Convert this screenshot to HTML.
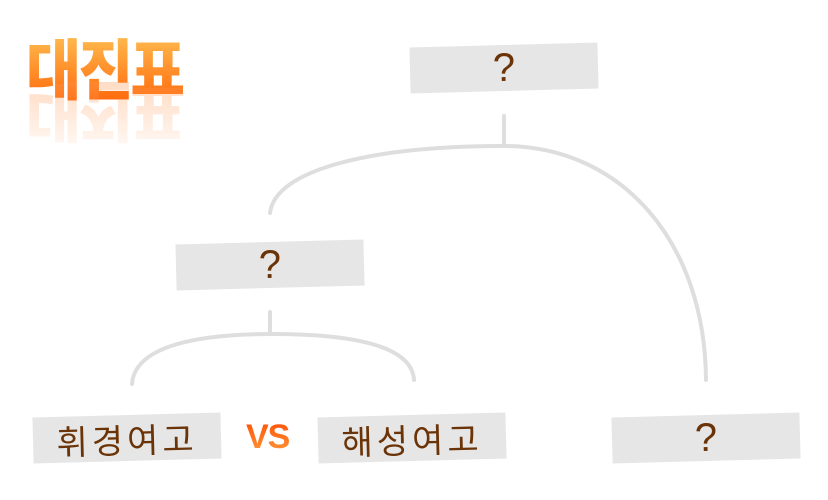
<!DOCTYPE html>
<html><head><meta charset="utf-8"><style>
body{margin:0;width:828px;height:500px;background:#fff;position:relative;overflow:hidden;font-family:"Liberation Sans","Noto Sans CJK KR",sans-serif}
.b{position:absolute;width:188px;height:46px;background:#e6e6e6;transform:rotate(-1.5deg);display:flex;align-items:center;justify-content:center;color:#6b3408;font-size:40px}
.k{font-size:34px;letter-spacing:4px;font-weight:400}
.t{position:absolute;left:26px;top:18px;font-size:60px;font-weight:900;letter-spacing:-3px;transform:scaleY(1.1);transform-origin:top;background:linear-gradient(#ffd060,#ff5a00);-webkit-background-clip:text;color:transparent;font-family:"Noto Sans CJK KR",sans-serif}
.r{position:absolute;left:26px;top:72px;font-size:60px;font-weight:900;letter-spacing:-3px;transform:scaleY(-1.1);transform-origin:center;background:linear-gradient(rgba(255,120,40,0),rgba(255,150,80,.4));-webkit-background-clip:text;color:transparent;font-family:"Noto Sans CJK KR",sans-serif}
.vs{position:absolute;left:246px;top:418px;font-size:34px;font-weight:900;background:linear-gradient(#ff4a00,#ffa040);-webkit-background-clip:text;color:transparent;font-family:"Liberation Sans",sans-serif;letter-spacing:-1px}
</style></head><body>
<div class="t">대진표</div>
<div class="r">대진표</div>
<svg width="828" height="500" style="position:absolute;left:0;top:0" fill="none" stroke="#dedede" stroke-width="4" stroke-linecap="round">
<path d="M504 116V146"/>
<path d="M270 213C275 170 370 146 504 146C620 146 705 240 706 380"/>
<path d="M270 312V334"/>
<path d="M132 384C135 345 200 334 272 334C350 334 412 345 414 380"/>
</svg>
<div class="b" style="left:410px;top:45px">?</div>
<div class="b" style="left:176px;top:242px">?</div>
<div class="b k" style="left:33px;top:415px">휘경여고</div>
<div class="b k" style="left:318px;top:415px">해성여고</div>
<div class="b" style="left:612px;top:415px">?</div>
<div class="vs">VS</div>
</body></html>
